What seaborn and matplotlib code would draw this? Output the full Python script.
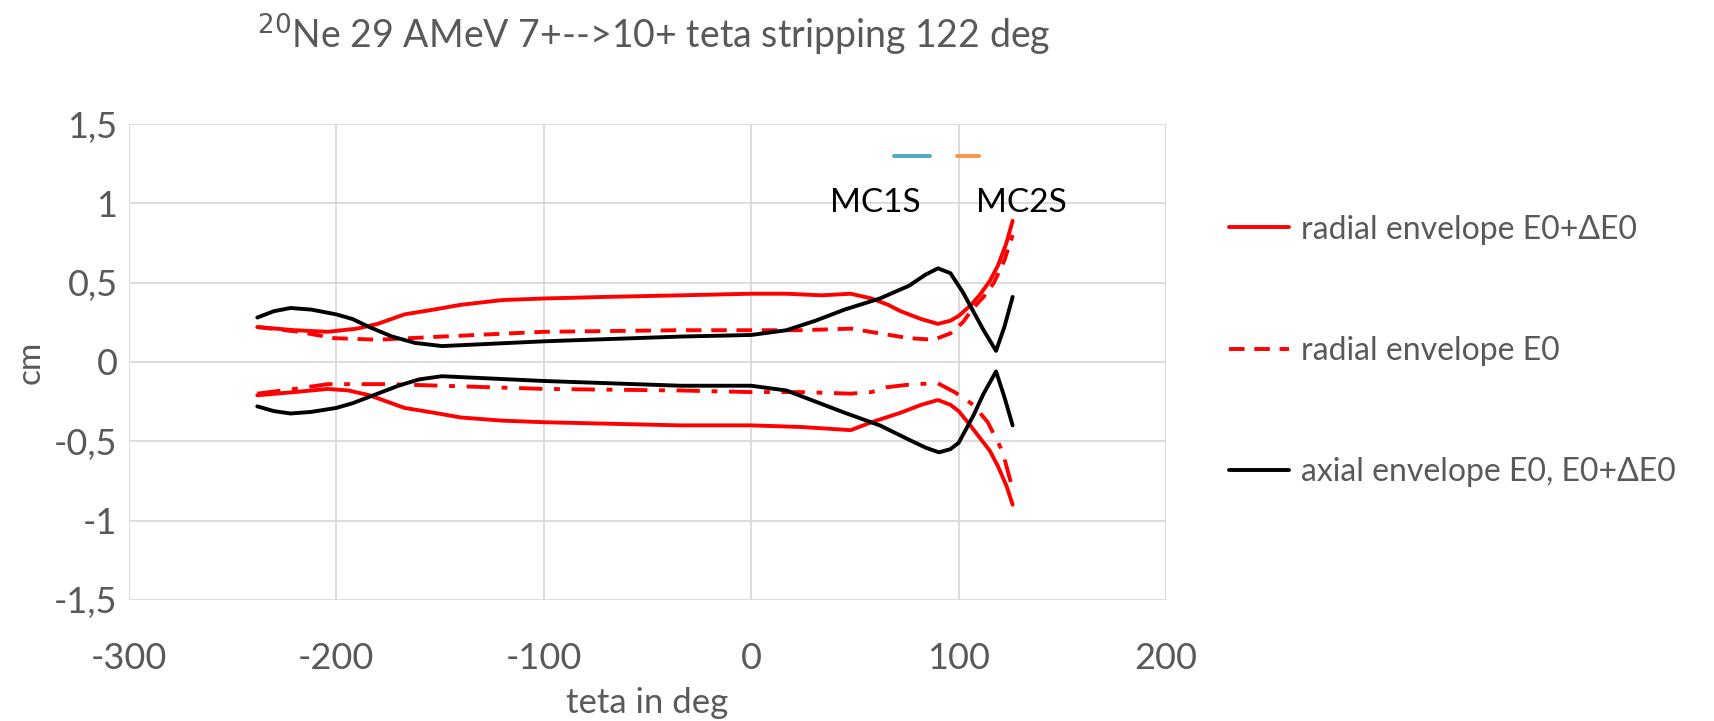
import matplotlib
matplotlib.use("Agg")
import matplotlib.pyplot as plt
import seaborn as sns
import pandas as pd
from matplotlib.ticker import FuncFormatter

# --- envelope data (teta in deg, envelope in cm) ---
rad_plus_up_x = [-238, -220, -204, -190, -180, -167, -153, -140, -120, -100, -70, -34, 0, 17, 34, 48, 58, 66, 72, 82, 90, 96, 100, 106, 110, 115, 119, 123, 126]
rad_plus_up_y = [0.22, 0.20, 0.19, 0.21, 0.24, 0.30, 0.33, 0.36, 0.39, 0.40, 0.41, 0.42, 0.43, 0.43, 0.42, 0.43, 0.40, 0.36, 0.32, 0.27, 0.24, 0.26, 0.29, 0.36, 0.42, 0.51, 0.61, 0.75, 0.89]

rad_plus_low_x = [-238, -220, -204, -194, -184, -167, -153, -140, -120, -100, -34, 0, 24, 48, 58, 72, 82, 90, 96, 100, 105, 110, 115, 119, 123, 126]
rad_plus_low_y = [-0.21, -0.19, -0.17, -0.18, -0.21, -0.29, -0.32, -0.35, -0.37, -0.38, -0.40, -0.40, -0.41, -0.43, -0.38, -0.32, -0.27, -0.24, -0.27, -0.31, -0.39, -0.475, -0.56, -0.66, -0.78, -0.90]

rad_e0_up_x = [-238, -218, -201, -180, -149, -100, -34, 0, 24, 48, 62, 76, 88, 96, 102, 107, 112, 117, 122, 126]
rad_e0_up_y = [0.22, 0.19, 0.15, 0.14, 0.16, 0.19, 0.20, 0.20, 0.20, 0.21, 0.18, 0.15, 0.14, 0.18, 0.25, 0.34, 0.41, 0.50, 0.64, 0.80]

rad_e0_low_x = [-238, -220, -204, -175, -149, -100, -34, 0, 24, 48, 58, 65, 78, 90, 98, 107, 114, 121, 126]
rad_e0_low_y = [-0.20, -0.17, -0.14, -0.14, -0.15, -0.17, -0.18, -0.19, -0.19, -0.20, -0.19, -0.16, -0.14, -0.135, -0.19, -0.27, -0.38, -0.56, -0.80]

axial_up_x = [-238, -230, -222, -212, -200, -192, -184, -173, -162, -149, -100, -34, 0, 17, 31, 45, 62, 76, 84, 90, 96, 102, 107, 112, 118, 122, 126]
axial_up_y = [0.28, 0.32, 0.34, 0.33, 0.30, 0.27, 0.22, 0.16, 0.12, 0.10, 0.13, 0.16, 0.17, 0.20, 0.26, 0.33, 0.40, 0.48, 0.55, 0.59, 0.56, 0.44, 0.32, 0.20, 0.07, 0.22, 0.41]

axial_low_x = [-238, -230, -222, -212, -200, -192, -184, -170, -160, -149, -100, -34, 0, 17, 31, 45, 62, 76, 84, 90.5, 96, 100, 107, 112, 118, 122, 126]
axial_low_y = [-0.28, -0.31, -0.325, -0.315, -0.29, -0.26, -0.22, -0.15, -0.11, -0.09, -0.12, -0.15, -0.15, -0.18, -0.25, -0.32, -0.40, -0.49, -0.54, -0.57, -0.55, -0.51, -0.34, -0.20, -0.06, -0.22, -0.40]

# magnetic channel positions
mc1_x = [69, 86]
mc2_x = [99, 110]
mc_y = 1.30
mc_labels = ["MC1S", "MC2S"]
mc_label_x = [60, 130]
mc_label_y = 1.0

x_ticks = [-300, -200, -100, 0, 100, 200]
y_ticks = [-1.5, -1, -0.5, 0, 0.5, 1, 1.5]

sns.set_theme(style="white")
plt.rcParams["font.family"] = ["Lato", "DejaVu Sans"]
plt.rcParams["axes.unicode_minus"] = False

fig = plt.figure(figsize=(17.15, 7.21), dpi=100)
ax = fig.add_axes([0.075, 0.168, 0.605, 0.66])

RED = "#FF0000"
BLACK = "#000000"
LW = 2.8

def draw(x, y, color, ls, label=None):
    df = pd.DataFrame({"teta": x, "cm": y})
    sns.lineplot(data=df, x="teta", y="cm", ax=ax, color=color, linestyle=ls,
                 linewidth=LW, sort=False, estimator=None, label=label, legend=False)

draw(rad_plus_up_x, rad_plus_up_y, RED, "-")
draw(rad_plus_low_x, rad_plus_low_y, RED, "-")
draw(rad_e0_up_x, rad_e0_up_y, RED, (0, (4, 2.5)))
draw(rad_e0_low_x, rad_e0_low_y, RED, (0, (6, 3, 1.5, 3)))
draw(axial_up_x, axial_up_y, BLACK, "-")
draw(axial_low_x, axial_low_y, BLACK, "-")

sns.lineplot(x=mc1_x, y=[mc_y, mc_y], ax=ax, color="#4BACC6", linewidth=LW, legend=False)
sns.lineplot(x=mc2_x, y=[mc_y, mc_y], ax=ax, color="#F79646", linewidth=LW, legend=False)
for lbl, lx in zip(mc_labels, mc_label_x):
    ax.text(lx, mc_label_y, lbl, ha="center", va="center", fontsize=24, color="black")

ax.set_xlim(-300, 200)
ax.set_ylim(-1.5, 1.5)
ax.set_xticks(x_ticks)
ax.set_yticks(y_ticks)
ax.yaxis.set_major_formatter(FuncFormatter(lambda v, p: f"{v:g}".replace(".", ",")))
ax.tick_params(axis="both", labelsize=26, labelcolor="#595959", length=0)
ax.tick_params(axis="x", pad=30)
ax.tick_params(axis="y", pad=8)
ax.grid(True, color="#D9D9D9", linewidth=1.3)
for s in ax.spines.values():
    s.set_visible(False)

ax.set_xlabel("teta in deg", fontsize=25, color="#595959", labelpad=9)
ax.set_ylabel("cm", fontsize=24, color="#595959", labelpad=6)

fig.text(0.381, 0.952, r"$^{20}$Ne 29 AMeV 7+-->10+ teta stripping 122 deg",
         ha="center", va="center", fontsize=27, color="#595959")

handles = [
    plt.Line2D([], [], color=RED, lw=LW, ls="-"),
    plt.Line2D([], [], color=RED, lw=LW, ls=(0, (4, 2.5))),
    plt.Line2D([], [], color=BLACK, lw=LW, ls="-"),
]
labels = ["radial envelope E0+ΔE0", "radial envelope E0", "axial envelope E0, E0+ΔE0"]
fig.legend(handles, labels, loc="upper left", bbox_to_anchor=(0.709, 0.72),
           frameon=False, fontsize=23, labelcolor="#595959", handlelength=1.9,
           handletextpad=0.35, labelspacing=2.85, borderaxespad=0)

fig.savefig("out.png", dpi=100)
